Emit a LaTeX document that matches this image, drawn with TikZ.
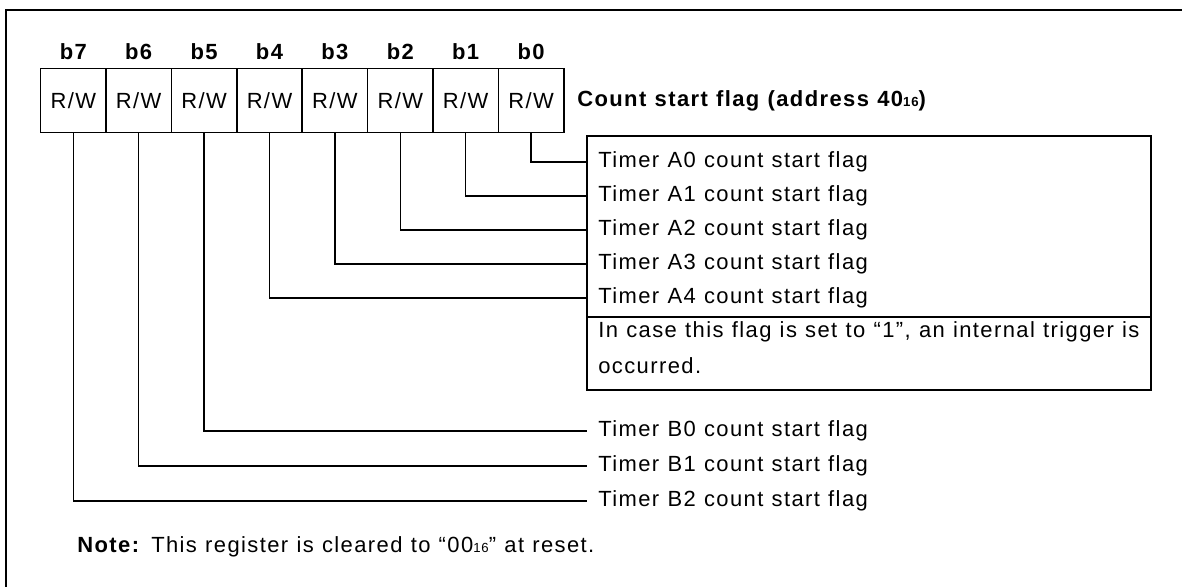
\documentclass[tikz,border=0pt]{standalone}
\usepackage{fontspec}
\setmainfont{Liberation Sans}[LetterSpace=6.4,WordSpace=1.1]
\usepackage{tikz}
\newcommand{\hexsub}[1]{{\fontsize{7.5}{8}\selectfont #1}}

\begin{document}
\begin{tikzpicture}[x=0.02cm, y=-0.02cm,
    every node/.style={font=\fontsize{12.5}{14}\selectfont},
    regbox/.style={draw, line width=0.8pt, minimum width=1.308cm, minimum height=1.28cm, inner sep=0pt, outer sep=0pt},
    flagtext/.style={anchor=west, inner xsep=0.22cm, inner ysep=0pt},
    wire/.style={line width=0.7pt}]
    \useasboundingbox (0,0) rectangle (1182,587);

    % Frame
    \draw[line width=1.2pt] (6,587) -- (6,10) -- (1182,10);

    % Register cells and bit numbers
    \foreach \i in {0,...,7} {
        \pgfmathtruncatemacro{\bit}{7-\i}
        \node[regbox] (r\bit) at (73.3+65.4*\i, 100.3) {R/W};
        \node[font=\bfseries\fontsize{12.5}{14}\selectfont] (lb\bit) at (73.3+65.4*\i, 52) {b\bit};
    }
    \node[anchor=west, inner xsep=0.24cm, font=\bfseries\fontsize{12.5}{14}\selectfont] (title) at (565,101)
        {Count start flag (address 40\hexsub{16})};

    % Flag box
    \draw[line width=0.8pt] (587,136) rectangle (1151,390);
    \draw[line width=0.8pt] (587,317) -- (1151,317);
    \foreach \k/\y in {0/162,1/196,2/230,3/264,4/298} {
        \node[flagtext] (a\k) at (587,\y) {Timer A\k\ count start flag};
    }
    \node[flagtext] (trig1) at (587,332) {In case this flag is set to “1”, an internal trigger is};
    \node[flagtext] (trig2) at (587,366) {occurred.};

    % Timer B flags
    \foreach \k/\y in {0/431,1/466,2/501} {
        \node[flagtext] (bt\k) at (587,\y) {Timer B\k\ count start flag};
    }

    % Wires
    \foreach \k in {0,...,4} {
        \draw[wire] (r\k.south) |- (a\k.west);
    }
    \draw[wire] (r5.south) |- (bt0.west);
    \draw[wire] (r6.south) |- (bt1.west);
    \draw[wire] (r7.south) |- (bt2.west);

    % Note
    \node[anchor=west, inner xsep=0.24cm] (note) at (65,547)
        {\textbf{Note:} This register is cleared to “00\hexsub{16}” at reset.};
\end{tikzpicture}
\end{document}
